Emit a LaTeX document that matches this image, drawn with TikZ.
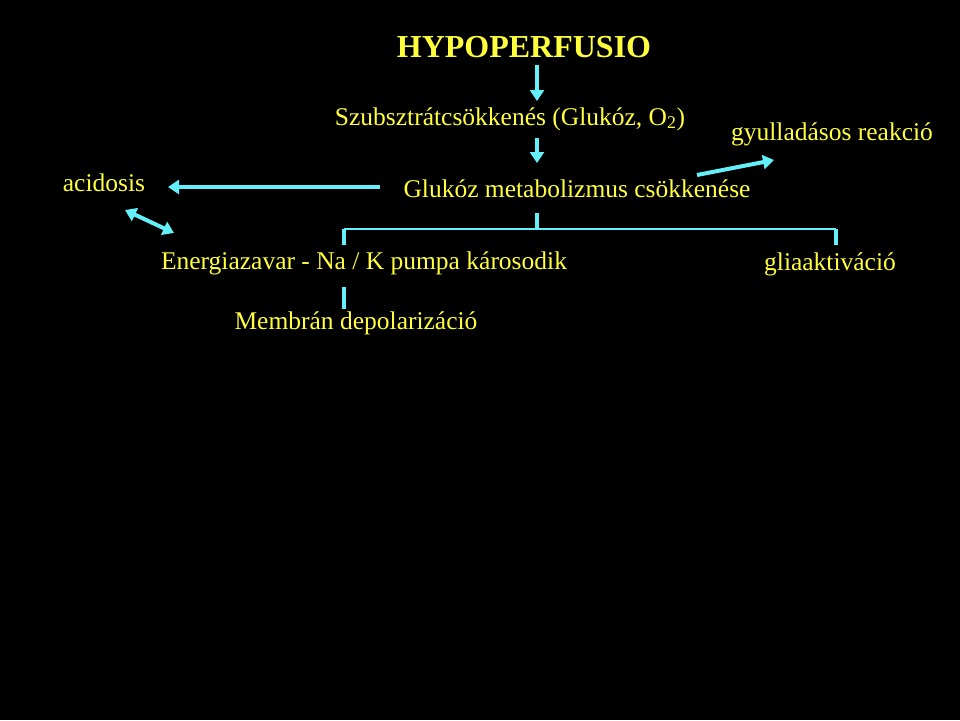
\documentclass[tikz,border=0pt]{standalone}
\usepackage{fontspec}
\setmainfont{Liberation Serif}
\usetikzlibrary{arrows.meta, positioning}
\usepackage{xcolor}
\definecolor{slideyellow}{RGB}{255,255,60}
\definecolor{slidecyan}{RGB}{100,240,250}

\begin{document}
\begin{tikzpicture}[
x=1pt, y=-1pt,
label/.style={text=slideyellow,
inner sep=2pt,
font=\fontsize{25.5}{28}\selectfont},
title/.style={text=slideyellow,
font=\fontsize{32}{34}\selectfont\bfseries},
arrow/.style={-{Triangle[width=14pt,length=11pt]}, line width=4pt, draw=slidecyan},
darrow/.style={{Triangle[width=14pt,length=11pt]}-{Triangle[width=14pt,length=11pt]}, line width=4pt, draw=slidecyan},
bar/.style={draw=slidecyan, line width=2pt},
stem/.style={draw=slidecyan, line width=4pt}
]

\fill[black] (0,0) rectangle (960,720);
\useasboundingbox (0,0) rectangle (960,720);

\node[title] (hypo) at (524,47) {HYPOPERFUSIO};
\node[label] (subst) at (510,119) {Szubsztrátcsökkenés (Glukóz, O\textsubscript{2})};
\node[label] (gluk) at (577,189) {Glukóz metabolizmus csökkenése};
\node[label] (acid) at (104,183) {acidosis};
\node[label] (gyull) at (832,134) {gyulladásos reakció};
\node[label] (energ) at (364,263) {Energiazavar - Na / K pumpa károsodik};
\node[label] (glia) at (830,264) {gliaaktiváció};
\node[label] (membr) at (356,323) {Membrán depolarizáció};

% helper points
\coordinate (left) at (344,229);
\coordinate (right) at (836,229);
\coordinate (fork) at (537,229);

\draw[arrow] (537,65) -- (537,101);
\draw[arrow] (537,138) -- (537,163);
\draw[arrow] (380,187) -- (168,187);
\draw[darrow] (125,210) -- (174,233);
\draw[arrow] (697,175) -- (774,160);

\draw[stem] (537,213) -- (fork);
\draw[bar] (left) -- (right);
\draw[stem] (left) -- ++(0,16);
\draw[stem] (right) -- ++(0,16);
\draw[stem] (344,287) -- (344,309);

\end{tikzpicture}
\end{document}
